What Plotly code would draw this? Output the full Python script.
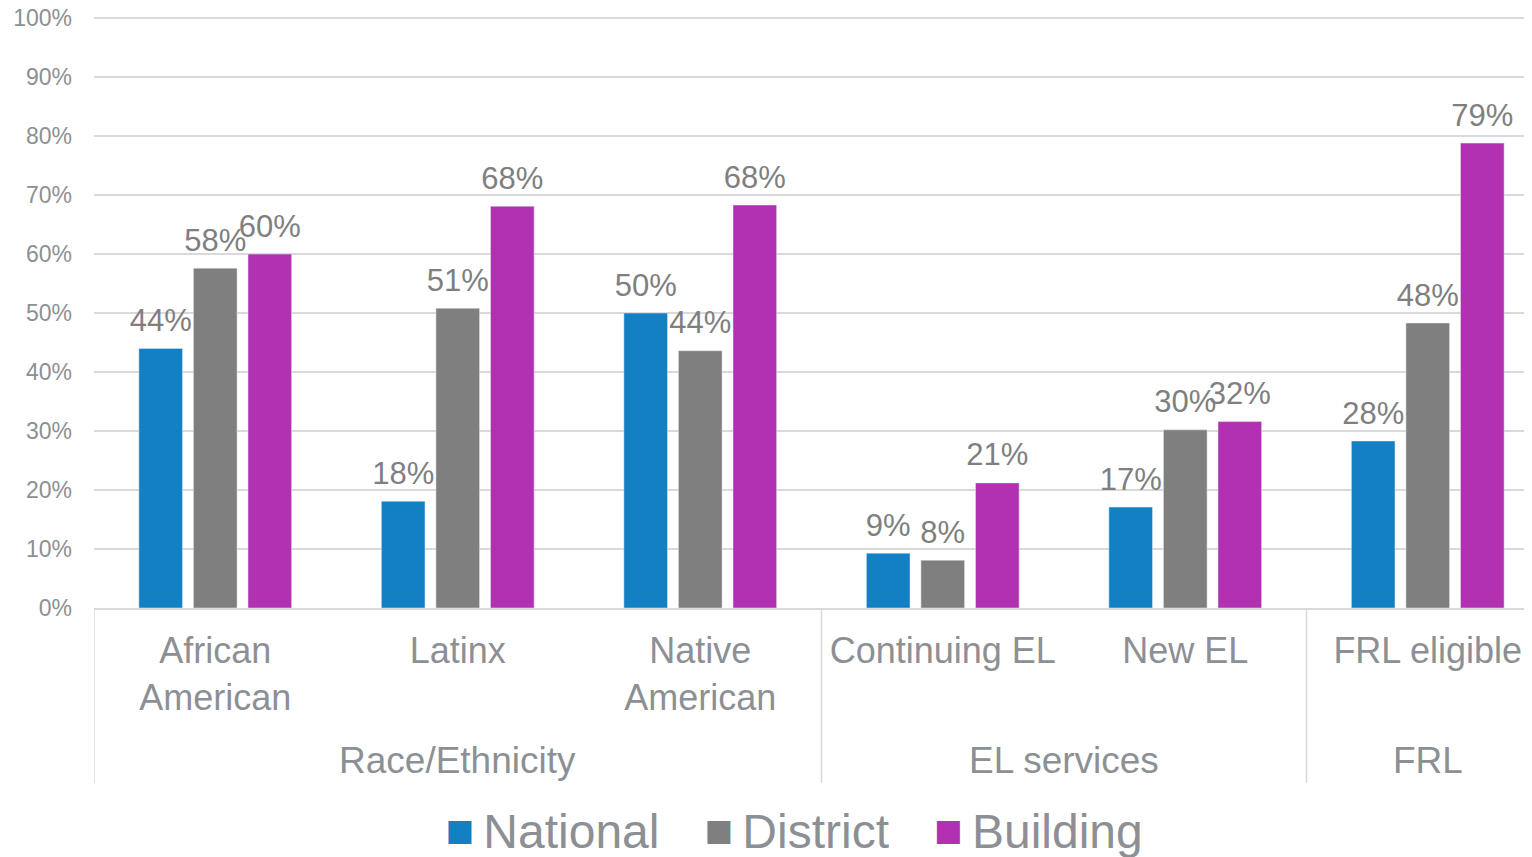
import plotly.graph_objects as go

categories = ["African<br>American", "Latinx", "Native<br>American", "Continuing EL", "New EL", "FRL eligible"]
group_names = ["Race/Ethnicity", "EL services", "FRL"]
group_sizes = [3, 2, 1]

national = [0.44, 0.181, 0.50, 0.093, 0.171, 0.283]
district = [0.576, 0.508, 0.436, 0.081, 0.302, 0.483]
building = [0.60, 0.681, 0.683, 0.212, 0.316, 0.788]

series_names = ["National", "District", "Building"]
series_values = [national, district, building]
colors = ["#1380C3", "#7F7F7F", "#B231B2"]

FONT = "Liberation Sans, Arial, sans-serif"
TXT = "#8C9094"
LINE = "#D9D9D9"

fig = go.Figure()
for i, (name, vals, col) in enumerate(zip(series_names, series_values, colors)):
    fig.add_trace(go.Bar(
        x=categories, y=vals, name=name, marker_color=col,
        offsetgroup=str(i), showlegend=False, hoverinfo="skip",
    ))
for i, (name, vals, col) in enumerate(zip(series_names, series_values, colors)):
    # value labels, grouped like the bars
    fig.add_trace(go.Scatter(
        x=categories, y=vals, mode="markers+text", offsetgroup=str(i),
        marker=dict(size=14, color="rgba(0,0,0,0)"),
        texttemplate="%{y:.0%}", textposition="top center", cliponaxis=False,
        textfont=dict(family=FONT, size=31, color="#7F7F7F"),
        showlegend=False, hoverinfo="skip",
    ))
for name, col in zip(series_names, colors):
    # legend entries
    fig.add_trace(go.Scatter(
        x=[None], y=[None], mode="markers",
        name=(f"<span style='font-family:DejaVu Sans;font-size:30px;color:{col};"
              f"baseline-shift:8px'>\u25A0 </span>{name}"),
        marker=dict(size=10, color="rgba(0,0,0,0)"),
    ))

# group labels and dividers on the category axis
start = 0
annotations = []
shapes = []
div_bottom = -0.2956
for gname, gsize in zip(group_names, group_sizes):
    center = start + (gsize - 1) / 2
    annotations.append(dict(x=center, xref="x", y=-0.2584, yref="paper", text=gname,
                            showarrow=False, yanchor="middle",
                            font=dict(family=FONT, size=37, color=TXT)))
    shapes.append(dict(type="line", xref="x", yref="paper", x0=start - 0.5, x1=start - 0.5,
                       y0=0, y1=div_bottom, line=dict(color=LINE, width=1.5)))
    start += gsize

fig.update_layout(
    width=1541, height=849,
    margin=dict(l=86, r=0, t=8, b=249, autoexpand=False),
    paper_bgcolor="white", plot_bgcolor="white",
    barmode="group", bargap=0.325, bargroupgap=0.2,
    scattermode="group", scattergap=0.325,
    font=dict(family=FONT, color=TXT),
    annotations=annotations, shapes=shapes,
    legend=dict(orientation="h", x=0.4694, xanchor="center", y=-0.375, yanchor="middle",
                font=dict(size=48, color=TXT), itemwidth=30, tracegroupgap=0),
)
fig.update_yaxes(range=[0, 1.0034], dtick=0.1, tickformat=".0%", showgrid=True,
                 gridcolor=LINE, gridwidth=1.5, zeroline=False, showline=False,
                 ticklabeloverflow="allow",
                 tickfont=dict(size=23, color=TXT), ticklabelstandoff=21, automargin=False)
fig.update_xaxes(type="category", range=[-0.5, 5.5], showline=True, linecolor=LINE, linewidth=1.5,
                 tickangle=0, automargin=False, ticks="", ticklabelstandoff=10,
                 tickfont=dict(size=36, color=TXT), showgrid=False)

fig.write_html("out.html")
